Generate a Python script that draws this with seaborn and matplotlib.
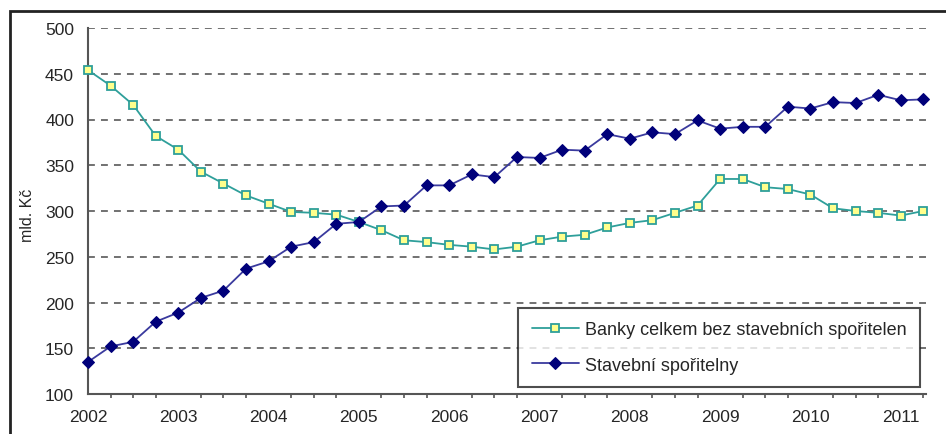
import numpy as np
import pandas as pd
import matplotlib
matplotlib.use('Agg')
import matplotlib.pyplot as plt
import matplotlib.patches as mpatches
from matplotlib.ticker import MultipleLocator
import seaborn as sns

# quarterly observations, 2002Q1 - 2011Q2
quarters = pd.period_range('2002Q1', '2011Q2', freq='Q')
banky = [454, 437, 416, 382, 367, 343, 330, 317, 308, 299,
         298, 296, 288, 279, 268, 266, 263, 261, 258, 261,
         268, 272, 274, 282, 287, 290, 298, 306, 335, 335,
         326, 324, 318, 303, 300, 298, 295, 300]
stavebni = [135, 152, 157, 179, 189, 205, 213, 237, 245, 261,
            266, 286, 288, 305, 306, 328, 328, 340, 337, 359,
            358, 367, 366, 384, 379, 386, 384, 399, 390, 392,
            392, 414, 412, 419, 418, 427, 421, 422]
label_banky = 'Banky celkem bez stavebních spořitelen'
label_stav = 'Stavební spořitelny'

x = quarters.year + (quarters.quarter - 1) / 4

sns.set_style('white')
plt.rcParams['font.family'] = ['Liberation Sans', 'DejaVu Sans']

fig = plt.figure(figsize=(9.46, 4.35), dpi=100)
ax = fig.add_axes([88/946, 1-395/435, 838/946, 366/435])

sns.lineplot(x=x, y=banky, ax=ax, color='#2e9f9a', lw=1.3, marker='s',
             markersize=6.3, markerfacecolor='#ffff8c', markeredgecolor='#2e9f9a',
             markeredgewidth=1.3, label=label_banky, clip_on=False, zorder=4)
sns.lineplot(x=x, y=stavebni, ax=ax, color='#3a3a9e', lw=1.3, marker='D',
             markersize=6.5, markerfacecolor='#00007a', markeredgecolor='#00007a',
             label=label_stav, clip_on=False, zorder=5)

ax.set_xlim(2002, 2011.28)
ax.set_ylim(100, 500)
ax.xaxis.set_major_locator(MultipleLocator(1))
ax.xaxis.set_minor_locator(MultipleLocator(0.25))
ax.yaxis.set_major_locator(MultipleLocator(50))
ax.xaxis.set_major_formatter(matplotlib.ticker.FormatStrFormatter('%d'))

for v in range(150, 501, 50):
    ax.axhline(v, color='#4a4a4a', lw=1.1, ls=(0, (4.5, 4)), zorder=1)

for s in ['top', 'right']:
    ax.spines[s].set_visible(False)
for s in ['left', 'bottom']:
    ax.spines[s].set_color('#555555')
    ax.spines[s].set_linewidth(1.5)

ax.tick_params(axis='y', which='major', direction='inout', length=8, width=1.2,
               color='#555555', labelsize=12.5, pad=6)
ax.tick_params(axis='x', which='major', direction='inout', length=8, width=1.2,
               color='#555555', labelsize=12.5, pad=7)
ax.tick_params(axis='x', which='minor', direction='out', length=3, width=1.2,
               color='#555555', bottom=True)

ax.set_ylabel('mld. Kč', fontsize=11.5)
ax.yaxis.set_label_coords(-0.063, 0.49)
ax.set_xlabel('')

leg = ax.legend(loc='lower right', bbox_to_anchor=(0.993, 0.019), fontsize=13,
                frameon=True, fancybox=False, edgecolor='#222222',
                borderpad=0.75, labelspacing=1.0, handlelength=2.6,
                handletextpad=0.35, borderaxespad=0)
leg.get_frame().set_linewidth(1.5)

frame = mpatches.Rectangle((10/946, -0.05), 1.0, 1 - 12/435 + 0.05,
                           transform=fig.transFigure, fill=False,
                           lw=2, ec='#222222')
fig.add_artist(frame)

fig.savefig('out.png', dpi=100)
